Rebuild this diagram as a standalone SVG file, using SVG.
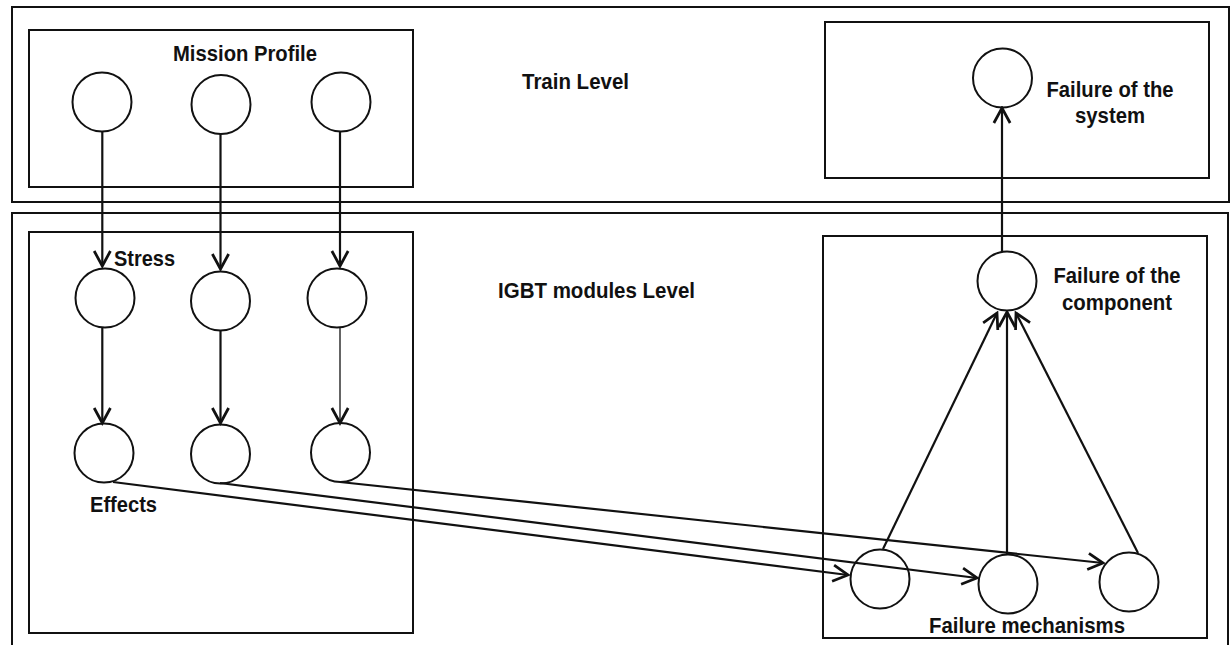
<svg xmlns="http://www.w3.org/2000/svg" width="1231" height="645" viewBox="0 0 1231 645">
<style>
.box{fill:none;stroke:#111;stroke-width:2}
.nd{fill:#fff;stroke:#111;stroke-width:2}
.ln{fill:none;stroke:#111;stroke-width:2.2;marker-end:url(#arr)}
.thin{stroke-width:1.3}
.t{font-family:"Liberation Sans",Arial,sans-serif;font-weight:bold;font-size:21.5px;fill:#111}
.c{text-anchor:middle}
</style>
<defs>
<marker id="arr" markerUnits="userSpaceOnUse" markerWidth="20" markerHeight="20" viewBox="-14 -8 16 16" refX="0" refY="0" orient="auto">
<path d="M-12,-6.5 L0,0 L-12,6.5" fill="none" stroke="#111" stroke-width="2.2"/>
</marker>
</defs>
<rect width="1231" height="645" fill="#fff"/>
<g id="train-level">
<rect class="box" x="12" y="7" width="1217" height="195"/>
<text class="t" x="522" y="89" textLength="107" lengthAdjust="spacingAndGlyphs">Train Level</text>
</g>
<g id="igbt-level">
<rect class="box" x="12" y="213" width="1216" height="440"/>
<text class="t" x="498" y="298" textLength="197" lengthAdjust="spacingAndGlyphs">IGBT modules Level</text>
</g>
<g id="mission-profile">
<rect class="box" x="29" y="30" width="384" height="157"/>
<text class="t c" x="245" y="61" textLength="144" lengthAdjust="spacingAndGlyphs">Mission Profile</text>
<circle class="nd" cx="102" cy="102" r="29.5"/>
<circle class="nd" cx="221" cy="104.5" r="29.5"/>
<circle class="nd" cx="341" cy="102" r="29.5"/>
</g>
<g id="system-box">
<rect class="box" x="825" y="22" width="384" height="156"/>
<circle class="nd" cx="1002.5" cy="78" r="29.5"/>
<text class="t c" x="1110" y="97" textLength="127" lengthAdjust="spacingAndGlyphs">Failure of the</text>
<text class="t c" x="1110" y="123" textLength="70" lengthAdjust="spacingAndGlyphs">system</text>
</g>
<g id="stress-effects">
<rect class="box" x="29" y="232" width="384" height="401"/>
<text class="t" x="114" y="266" textLength="61" lengthAdjust="spacingAndGlyphs">Stress</text>
<circle class="nd" cx="105" cy="298" r="29.5"/>
<circle class="nd" cx="220.5" cy="301" r="29.5"/>
<circle class="nd" cx="337" cy="298" r="29.5"/>
<circle class="nd" cx="104" cy="453" r="29.5"/>
<circle class="nd" cx="220.5" cy="454" r="29.5"/>
<circle class="nd" cx="340.5" cy="452.5" r="29.5"/>
<text class="t" x="90" y="512" textLength="67" lengthAdjust="spacingAndGlyphs">Effects</text>
</g>
<g id="component-box">
<rect class="box" x="823" y="236" width="384" height="402"/>
<circle class="nd" cx="1007" cy="281" r="29.5"/>
<text class="t c" x="1117" y="283" textLength="127" lengthAdjust="spacingAndGlyphs">Failure of the</text>
<text class="t c" x="1117" y="310" textLength="110" lengthAdjust="spacingAndGlyphs">component</text>
<circle class="nd" cx="880" cy="579" r="29.5"/>
<circle class="nd" cx="1008" cy="584" r="29.5"/>
<circle class="nd" cx="1129" cy="582" r="29.5"/>
<text class="t c" x="1027" y="633" textLength="196" lengthAdjust="spacingAndGlyphs">Failure mechanisms</text>
</g>
<g id="connectors">
<line class="ln" x1="102.3" y1="131.5" x2="102.3" y2="266"/>
<line class="ln" x1="220.5" y1="134" x2="220.5" y2="269"/>
<line class="ln" x1="340" y1="131.5" x2="340" y2="266"/>
<line class="ln" x1="102.3" y1="327.5" x2="102.3" y2="423"/>
<line class="ln" x1="220.5" y1="330.5" x2="220.5" y2="423"/>
<line class="ln thin" x1="340" y1="327.5" x2="340" y2="423"/>
<line class="ln" x1="113" y1="482" x2="848" y2="575"/>
<line class="ln" x1="220" y1="483" x2="977" y2="578"/>
<line class="ln" x1="340" y1="482" x2="1103" y2="563"/>
<line class="ln" x1="883" y1="549" x2="997" y2="313"/>
<line class="ln" x1="1007" y1="554" x2="1007" y2="312"/>
<line class="ln" x1="1138" y1="553" x2="1016" y2="313"/>
<line class="ln" x1="1002" y1="252" x2="1002" y2="108"/>
</g>
</svg>
